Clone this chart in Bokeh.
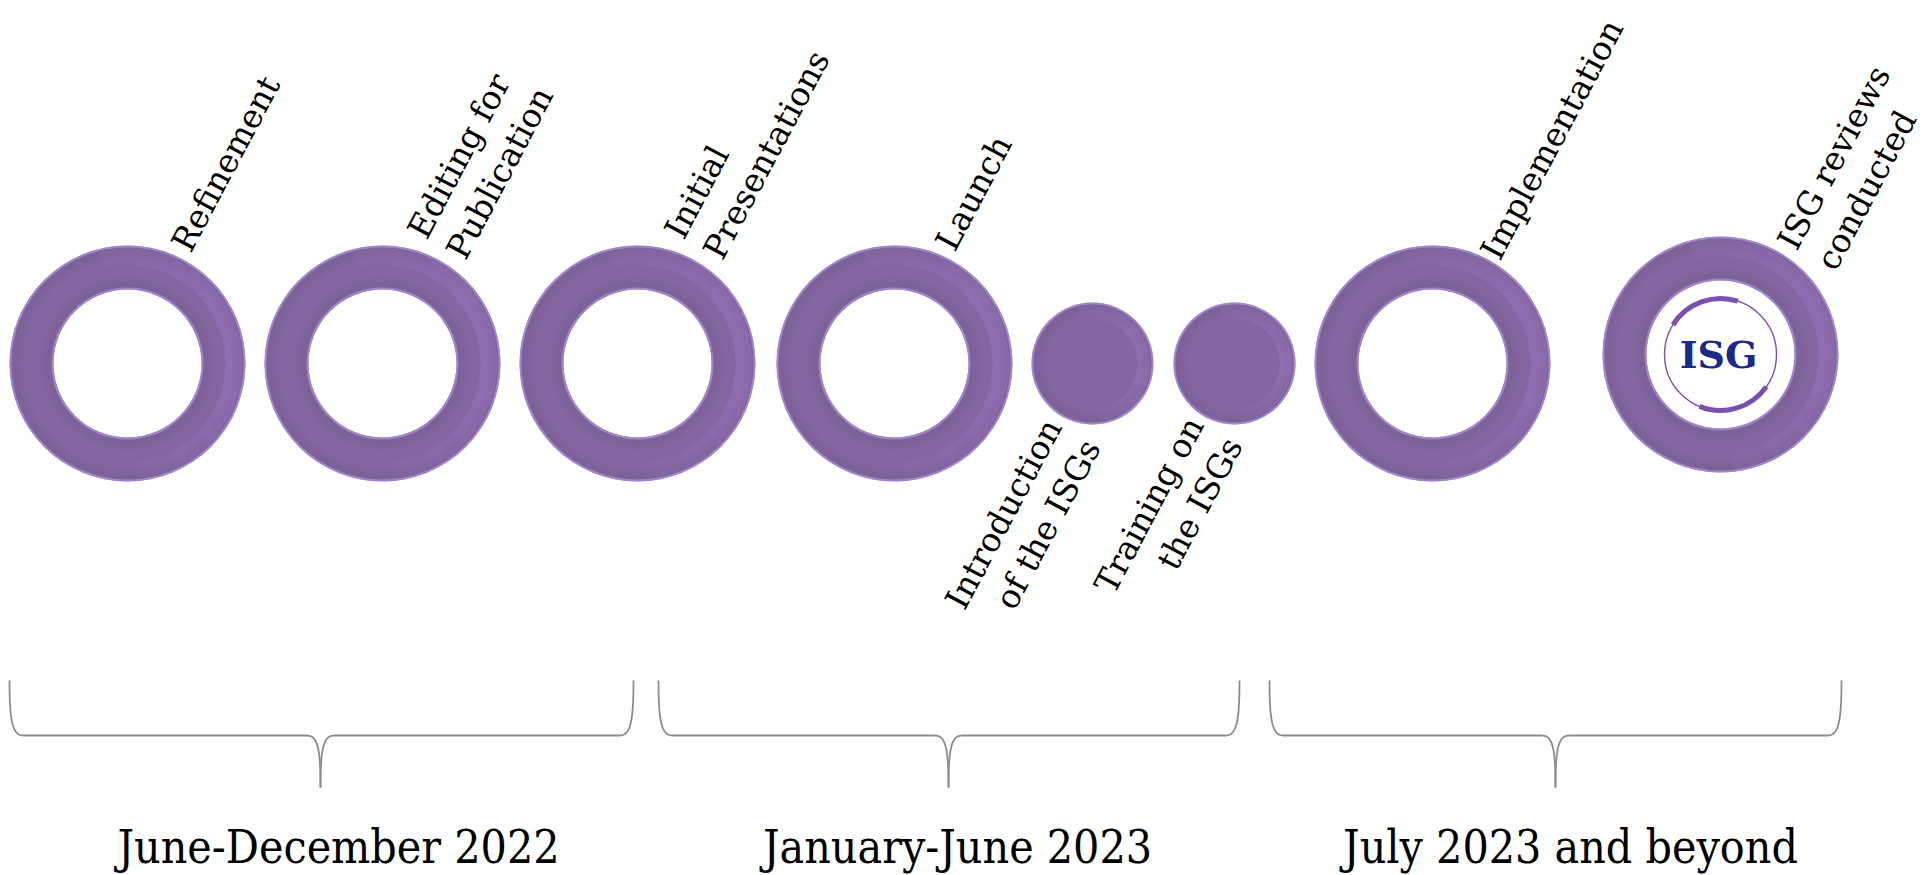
import numpy as np
from bokeh.plotting import figure
from bokeh.models import Range1d
from bokeh.core.properties import value
from bokeh.embed import file_html
from bokeh.resources import INLINE

# ---------------- data ----------------
milestones = ["Refinement", "Editing for\nPublication", "Initial\nPresentations", "Launch",
              "Introduction\nof the ISGs", "Training on\nthe ISGs", "Implementation",
              "ISG reviews\nconducted"]
milestone_x = [127, 382, 637, 894, 1092, 1234, 1432, 1720]
milestone_kind = ["ring", "ring", "ring", "ring", "dot", "dot", "ring", "logo"]
label_side = ["above", "above", "above", "above", "below", "below", "above", "above"]

periods = ["June-December 2022", "January-June 2023", "July 2023 and beyond"]
period_start = [9, 658, 1269]
period_end = [633, 1239, 1841]
period_mid = [320, 948, 1555]
period_label_x = [338, 957, 1570]

# ---------------- layout (screen px) ----------------
W, H = 1928, 875
def Y(ys):
    return H - np.asarray(ys, dtype=float)

row_y = [363, 363, 363, 363, 363, 363, 363, 354]
label_off = [(53, -115), (34, -128), (36, -128), (50, -116), (-40, 58), (-40, 56), (57, -107), (66, -108)]
R_OUT, R_IN, R_DOT = 118, 74, 61
ANG = np.deg2rad(62)
LINE_H = 44
LABEL_FONT = value("DejaVu Serif")
PERIOD_FONT = value("'DejaVu Serif Condensed', 'DejaVu Serif'")

PURPLE = "#8466A2"
DARK = "#735F8C"
LIGHT = "#A484D0"
RIM = "#B497E4"

p = figure(width=W, height=H, x_range=Range1d(0, W), y_range=Range1d(0, H),
           output_backend="svg", toolbar_location=None, min_border=0,
           x_axis_location=None, y_axis_location=None)
p.grid.visible = False
p.outline_line_color = None
p.background_fill_color = "white"
p.border_fill_color = "white"


def soft_light(x, y, rin, rout):
    for span in (25, 45, 65, 85):
        p.annular_wedge(x=[x], y=[y], inner_radius=rin, outer_radius=rout,
                        start_angle=np.deg2rad(-span), end_angle=np.deg2rad(span + 20),
                        fill_color=LIGHT, fill_alpha=0.10, line_color=None)


def ring(x, ys, rin, rout):
    y = float(Y(ys))
    p.annulus(x=[x], y=[y], inner_radius=rin, outer_radius=rout, fill_color=PURPLE, line_color=None)
    for k, a in ((3, 0.18), (6, 0.14), (9, 0.10)):
        p.annulus(x=[x], y=[y], inner_radius=rout - k - 4, outer_radius=rout - 2, fill_color=DARK,
                  fill_alpha=a, line_color=None)
        p.annulus(x=[x], y=[y], inner_radius=rin + 2, outer_radius=rin + k + 4, fill_color=DARK,
                  fill_alpha=a, line_color=None)
    soft_light(x, y, rout - 20, rout - 3)
    p.circle(x=[x], y=[y], radius=rout - 1, fill_color=None, line_color=RIM, line_width=2, line_alpha=0.6)
    p.circle(x=[x], y=[y], radius=rin + 1, fill_color=None, line_color=RIM, line_width=2, line_alpha=0.6)


def dot(x, ys, r):
    y = float(Y(ys))
    p.circle(x=[x], y=[y], radius=r, fill_color=PURPLE, line_color=None)
    for k, a in ((3, 0.18), (6, 0.14), (9, 0.10)):
        p.annulus(x=[x], y=[y], inner_radius=r - k - 4, outer_radius=r - 2, fill_color=DARK,
                  fill_alpha=a, line_color=None)
    soft_light(x, y, r - 16, r - 3)
    p.circle(x=[x], y=[y], radius=r - 1, fill_color=None, line_color=RIM, line_width=2, line_alpha=0.6)


def logo(x, ys):
    y = float(Y(ys))
    p.circle(x=[x], y=[y], radius=56, fill_color=None, line_color="#7B52AB", line_width=1.4)
    p.arc(x=[x], y=[y], radius=56, start_angle=np.deg2rad(72), end_angle=np.deg2rad(148),
          line_color="#7B4FAE", line_width=5)
    p.arc(x=[x], y=[y], radius=56, start_angle=np.deg2rad(-112), end_angle=np.deg2rad(-35),
          line_color="#7B4FAE", line_width=5)
    p.text(x=[x - 2], y=[y], text=["ISG"], text_font=value("DejaVu Serif"), text_font_style="bold",
           text_font_size="38px", text_color="#1B2B85", text_align="center", text_baseline="middle")


for mx, ys, kind in zip(milestone_x, row_y, milestone_kind):
    if kind == "ring":
        ring(mx, ys, R_IN, R_OUT)
    elif kind == "dot":
        dot(mx, ys, R_DOT)
    else:
        ring(mx, ys, R_IN, R_OUT)
        logo(mx, ys)

# milestone labels (rotated)
for name, mx, ys, (dx, dy), side in zip(milestones, milestone_x, row_y, label_off, label_side):
    lines = name.split("\n")
    ax, ay = mx + dx, float(Y(ys + dy))
    xs, yv = [], []
    for i, _ in enumerate(lines):
        xs.append(ax + i * LINE_H * np.sin(ANG))
        yv.append(ay - i * LINE_H * np.cos(ANG))
    p.text(x=xs, y=yv, text=lines, angle=ANG, text_font=LABEL_FONT, text_font_size="33px",
           text_color="black", text_baseline="alphabetic",
           text_align="left" if side == "above" else "right")


# braces
def cubic(p0, p1, p2, p3, n=24):
    t = np.linspace(0, 1, n)[:, None]
    p0, p1, p2, p3 = map(np.asarray, (p0, p1, p2, p3))
    return (1 - t) ** 3 * p0 + 3 * (1 - t) ** 2 * t * p1 + 3 * (1 - t) * t ** 2 * p2 + t ** 3 * p3


TOP, BAR, TIP = 680, 735, 787
for a, b, c in zip(period_start, period_end, period_mid):
    left = np.vstack([
        cubic((a, TOP), (a, TOP + 0.75 * (BAR - TOP)), (a + 3, BAR), (a + 14, BAR)),
        np.array([[a + 14, BAR], [c - 14, BAR]]),
        cubic((c - 14, BAR), (c - 3, BAR), (c, BAR + 12), (c, TIP)),
    ])
    right = np.vstack([
        cubic((b, TOP), (b, TOP + 0.75 * (BAR - TOP)), (b - 3, BAR), (b - 14, BAR)),
        np.array([[b - 14, BAR], [c + 14, BAR]]),
        cubic((c + 14, BAR), (c + 3, BAR), (c, BAR + 12), (c, TIP)),
    ])
    p.multi_line(xs=[left[:, 0].tolist(), right[:, 0].tolist()],
                 ys=[Y(left[:, 1]).tolist(), Y(right[:, 1]).tolist()],
                 line_color="#8C8C8C", line_width=1.8)

p.text(x=period_label_x, y=[float(Y(846))] * 3, text=periods, text_font=PERIOD_FONT,
       text_font_size="46px", text_color="black", text_align="center", text_baseline="alphabetic")

open("out.html", "w").write(file_html(p, INLINE))
